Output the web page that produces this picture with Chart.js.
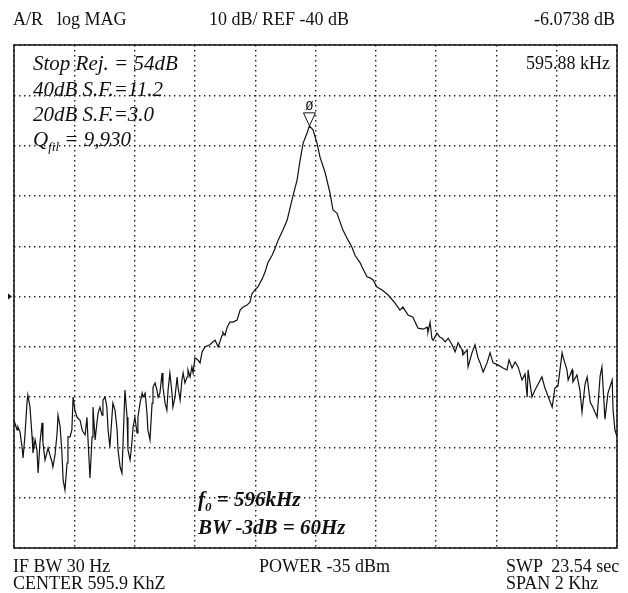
<!DOCTYPE html>
<html>
<head>
<meta charset="utf-8">
<script src="https://cdn.jsdelivr.net/npm/chart.js@4.4.1/dist/chart.umd.min.js"></script>
<style>
  body { margin: 0; background: #fff; }
  #wrap { position: relative; width: 628px; height: 593px; font-family: "Liberation Serif", "Times New Roman", serif; color: #111; }
  #wrap canvas { position: absolute; left: 0; top: 0; }
  .lbl { position: absolute; white-space: pre; line-height: 1; font-size: 18px; }
  .it { font-style: italic; font-size: 21px; }
  .bi { font-style: italic; font-weight: bold; font-size: 21px; }
  sub { font-size: 0.62em; vertical-align: -0.35em; line-height: 0; }
</style>
</head>
<body>
<div id="wrap">
  <canvas id="trace"></canvas>

  <!-- analyzer header -->
  <div class="lbl" style="left:13px;top:10px">A/R</div>
  <div class="lbl" style="left:57px;top:10px">log MAG</div>
  <div class="lbl" style="left:209px;top:10px">10 dB/ REF -40 dB</div>
  <div class="lbl" style="right:13px;top:10px">-6.0738 dB</div>

  <!-- in-screen notes -->
  <div class="lbl" style="right:18px;top:54px">595.88 kHz</div>
  <div class="lbl it" style="left:33px;top:53px">Stop Rej. = 54dB</div>
  <div class="lbl it" style="left:33px;top:79px">40dB S.F.=11.2</div>
  <div class="lbl it" style="left:33px;top:104px">20dB S.F.=3.0</div>
  <div class="lbl it" style="left:33px;top:129px">Q<sub>fil</sub> = 9,930</div>
  <div class="lbl bi" style="left:198px;top:489px">f<sub>0</sub> = 596kHz</div>
  <div class="lbl bi" style="left:198px;top:517px">BW -3dB = 60Hz</div>

  <!-- sweep settings -->
  <div class="lbl" style="left:13px;top:557px">IF BW 30 Hz</div>
  <div class="lbl" style="left:13px;top:574px">CENTER 595.9 KhZ</div>
  <div class="lbl" style="left:259px;top:557px">POWER -35 dBm</div>
  <div class="lbl" style="left:506px;top:557px">SWP  23.54 sec</div>
  <div class="lbl" style="left:506px;top:574px">SPAN 2 Khz</div>
</div>

<script>
// sweep: 594.9 .. 596.9 kHz, 10 dB/div, ref -40 dB on the centre line
const startKHz = 594.9, stopKHz = 596.9, stepKHz = 0.2;
const topDb = 10, bottomDb = -90, stepDb = 10;
const refDb = -40;
const markerKHz = 595.88, markerDb = -6.0738;

const freqKHz = [
  594.900, 594.910, 594.913, 594.920, 594.927, 594.930, 594.936, 594.943, 594.946, 594.953,
  594.960, 594.963, 594.970, 594.976, 594.980, 594.986, 594.993, 594.996, 595.003, 595.009,
  595.013, 595.019, 595.026, 595.029, 595.036, 595.043, 595.046, 595.053, 595.059, 595.063,
  595.069, 595.076, 595.079, 595.086, 595.092, 595.096, 595.102, 595.109, 595.112, 595.119,
  595.126, 595.129, 595.136, 595.142, 595.145, 595.152, 595.159, 595.162, 595.169, 595.175,
  595.179, 595.185, 595.192, 595.195, 595.202, 595.208, 595.212, 595.218, 595.228, 595.235,
  595.242, 595.245, 595.252, 595.258, 595.262, 595.268, 595.275, 595.278, 595.285, 595.291,
  595.295, 595.301, 595.308, 595.311, 595.318, 595.325, 595.328, 595.335, 595.341, 595.344,
  595.351, 595.358, 595.361, 595.368, 595.374, 595.378, 595.384, 595.391, 595.394, 595.401,
  595.407, 595.411, 595.417, 595.424, 595.427, 595.434, 595.441, 595.444, 595.451, 595.457,
  595.461, 595.467, 595.474, 595.477, 595.484, 595.490, 595.494, 595.500, 595.510, 595.517,
  595.524, 595.534, 595.550, 595.560, 595.567, 595.577, 595.583, 595.590, 595.593, 595.600,
  595.607, 595.616, 595.626, 595.640, 595.643, 595.650, 595.660, 595.673, 595.683, 595.689,
  595.699, 595.709, 595.723, 595.733, 595.742, 595.756, 595.766, 595.776, 595.792, 595.806,
  595.822, 595.839, 595.849, 595.859, 595.872, 595.880, 595.892, 595.905, 595.915, 595.932,
  595.948, 595.958, 595.971, 595.991, 596.008, 596.021, 596.031, 596.048, 596.054, 596.071,
  596.081, 596.091, 596.104, 596.121, 596.141, 596.164, 596.180, 596.190, 596.207, 596.223,
  596.240, 596.257, 596.270, 596.273, 596.280, 596.286, 596.290, 596.303, 596.313, 596.320,
  596.330, 596.340, 596.353, 596.363, 596.373, 596.386, 596.389, 596.403, 596.406, 596.419,
  596.429, 596.439, 596.446, 596.456, 596.469, 596.479, 596.489, 596.505, 596.522, 596.535,
  596.542, 596.552, 596.562, 596.572, 596.585, 596.595, 596.602, 596.605, 596.618, 596.628,
  596.651, 596.661, 596.685, 596.694, 596.704, 596.718, 596.721, 596.734, 596.738, 596.751,
  596.754, 596.767, 596.777, 596.784, 596.794, 596.801, 596.811, 596.820, 596.834, 596.844,
  596.850, 596.860, 596.870, 596.884, 596.887, 596.893, 596.900
];

const magDb = [
  -64.6, -66.5, -65.9, -66.9, -70.1, -72.1, -67.9, -61.2, -59.6, -62.0,
  -67.9, -71.1, -68.5, -70.5, -75.1, -69.1, -65.1, -69.1, -72.5, -71.1,
  -70.1, -71.5, -72.9, -73.9, -71.5, -67.1, -63.6, -65.9, -71.1, -76.5,
  -78.5, -73.1, -67.9, -67.9, -66.5, -60.0, -62.6, -64.0, -64.2, -64.6,
  -66.5, -66.9, -67.5, -64.0, -67.9, -76.1, -67.9, -62.0, -68.5, -65.1,
  -63.2, -62.0, -63.6, -60.6, -60.0, -62.0, -66.5, -69.9, -61.2, -62.6,
  -66.5, -70.5, -73.9, -75.1, -68.5, -58.6, -64.0, -70.5, -72.5, -69.1,
  -65.9, -64.0, -67.1, -64.0, -61.2, -59.2, -60.0, -59.2, -63.2, -66.5,
  -68.5, -61.2, -58.0, -57.2, -58.6, -60.0, -59.2, -55.2, -58.0, -61.2,
  -62.6, -58.6, -55.2, -59.2, -62.0, -60.0, -56.0, -58.0, -60.6, -56.6,
  -55.2, -57.2, -56.0, -54.6, -56.0, -54.0, -55.2, -52.2, -52.6, -53.2,
  -51.0, -50.0, -49.6, -49.0, -48.7, -50.0, -49.0, -47.7, -47.1, -47.7,
  -46.1, -45.1, -45.1, -44.7, -44.1, -42.7, -42.1, -41.7, -41.1, -39.5,
  -38.7, -38.1, -36.5, -35.1, -33.3, -31.8, -30.4, -28.8, -26.8, -24.8,
  -20.8, -16.8, -12.9, -9.5, -7.5, -6.0738, -6.9, -9.5, -12.3, -15.4,
  -19.4, -22.8, -23.4, -26.8, -28.8, -30.2, -31.8, -33.3, -34.1, -36.1,
  -36.3, -36.7, -38.1, -38.7, -39.7, -41.3, -42.7, -42.1, -43.7, -44.1,
  -46.3, -46.5, -46.1, -47.1, -45.1, -48.3, -48.7, -47.3, -48.1, -48.3,
  -49.0, -48.3, -49.6, -51.0, -49.2, -50.6, -51.6, -50.6, -54.0, -51.2,
  -49.6, -52.2, -53.2, -55.0, -53.2, -51.2, -53.2, -53.6, -54.2, -54.6,
  -52.6, -54.2, -53.0, -54.0, -56.6, -55.4, -60.0, -54.6, -60.0, -58.6,
  -56.0, -58.2, -62.0, -58.2, -57.8, -51.2, -52.0, -54.6, -56.6, -54.6,
  -57.0, -55.6, -58.6, -63.0, -57.4, -56.0, -61.0, -62.0, -64.0, -55.8,
  -54.0, -64.4, -59.2, -56.6, -62.6, -66.5, -67.9
];

// frame, reference-level arrow and the active marker
const screenDecor = {
  id: 'screenDecor',
  afterDatasetsDraw(chart) {
    const { ctx, chartArea: a, scales: { x, y } } = chart;
    ctx.save();
    ctx.strokeStyle = '#111';
    ctx.fillStyle = '#111';
    ctx.lineWidth = 1.5;
    ctx.strokeRect(a.left, a.top, a.width, a.height);

    const ry = y.getPixelForValue(refDb);
    ctx.beginPath();
    ctx.moveTo(a.left - 6, ry - 3);
    ctx.lineTo(a.left - 2, ry);
    ctx.lineTo(a.left - 6, ry + 3);
    ctx.closePath();
    ctx.fill();

    const mx = x.getPixelForValue(markerKHz), my = y.getPixelForValue(markerDb);
    ctx.lineWidth = 1;
    ctx.beginPath();
    ctx.moveTo(mx, my);
    ctx.lineTo(mx - 6, my - 13);
    ctx.lineTo(mx + 6, my - 13);
    ctx.closePath();
    ctx.stroke();
    ctx.font = '13px "DejaVu Sans Mono"';
    ctx.textAlign = 'center';
    ctx.fillText('Ø', mx, my - 16);
    ctx.restore();
  }
};

const dotted = { color: '#222', lineWidth: 1.4, drawTicks: false };

new Chart(document.getElementById('trace'), {
  type: 'line',
  data: {
    datasets: [{
      data: freqKHz.map((f, i) => ({ x: f, y: magDb[i] })),
      borderColor: '#111',
      borderWidth: 1.2,
      pointRadius: 0,
      tension: 0
    }]
  },
  options: {
    responsive: true,
    maintainAspectRatio: false,
    animation: false,
    layout: { padding: { left: 14, top: 45, right: 11, bottom: 45 } },
    plugins: { legend: { display: false }, tooltip: { enabled: false } },
    scales: {
      x: {
        type: 'linear', min: startKHz, max: stopKHz,
        ticks: { display: false, stepSize: stepKHz },
        grid: dotted,
        border: { display: false, dash: [1.4, 3.6] }
      },
      y: {
        min: bottomDb, max: topDb,
        ticks: { display: false, stepSize: stepDb },
        grid: dotted,
        border: { display: false, dash: [1.4, 3.6] }
      }
    }
  },
  plugins: [screenDecor]
});
</script>
</body>
</html>
